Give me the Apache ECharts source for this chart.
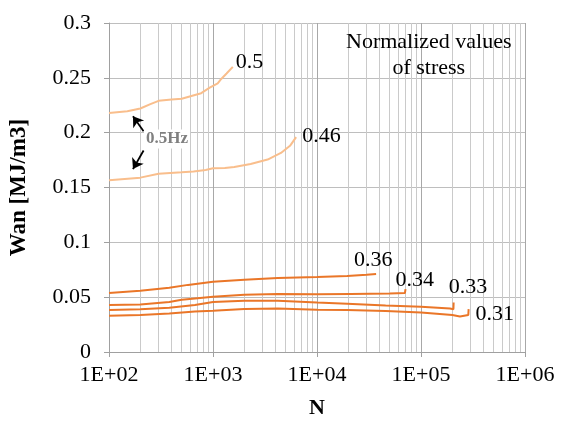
<!DOCTYPE html>
<html>
<head>
<meta charset="utf-8">
<script src="https://cdn.jsdelivr.net/npm/echarts@6/dist/echarts.min.js"></script>
<style>html,body{margin:0;padding:0;background:#fff}#c{width:566px;height:424px}</style>
</head>
<body>
<div id="c"></div>
<script>
// ---- data ----
const seriesNames = ['0.5', '0.46', '0.36', '0.34', '0.33', '0.31'];
const s05N  = [100, 150, 200, 250, 300, 400, 500, 620, 770, 930, 1110, 1200, 1350, 1550];
const s05W  = [0.218, 0.2195, 0.222, 0.226, 0.2290, 0.2302, 0.231, 0.2335, 0.236, 0.241, 0.245, 0.249, 0.254, 0.260];
const s046N = [100, 200, 300, 500, 650, 850, 1000, 1300, 1600, 2300, 3350, 4500, 5500, 6300];
const s046W = [0.1567, 0.159, 0.1625, 0.1638, 0.1645, 0.166, 0.1675, 0.1678, 0.1687, 0.1715, 0.1755, 0.1815, 0.188, 0.196];
const s036N = [100, 200, 380, 575, 1000, 2000, 4200, 10000, 19500, 30000, 37000];
const s036W = [0.0537, 0.0558, 0.0585, 0.0612, 0.064, 0.0658, 0.0674, 0.0683, 0.0694, 0.0705, 0.0712];
const s034N = [100, 200, 380, 500, 670, 1000, 2000, 4200, 10000, 21000, 50000, 70000, 71000];
const s034W = [0.0428, 0.0433, 0.0455, 0.0476, 0.0488, 0.0503, 0.0521, 0.0528, 0.0527, 0.053, 0.0533, 0.0537, 0.0573];
const s033N = [100, 200, 380, 670, 1000, 2000, 4200, 10000, 19500, 45700, 100000, 190000, 205000, 206000];
const s033W = [0.0382, 0.039, 0.0403, 0.0428, 0.0455, 0.0467, 0.0468, 0.0451, 0.044, 0.0424, 0.0412, 0.0397, 0.039, 0.0451];
const s031N = [100, 200, 380, 670, 1000, 2000, 4200, 10000, 19500, 45700, 100000, 200000, 237000, 285000, 287000];
const s031W = [0.033, 0.0337, 0.0351, 0.037, 0.0376, 0.0391, 0.0397, 0.0385, 0.0382, 0.0373, 0.036, 0.0337, 0.0324, 0.0337, 0.0391];
const xTickLabels = ['1E+02', '1E+03', '1E+04', '1E+05', '1E+06'];
const yTicks = [0, 0.05, 0.1, 0.15, 0.2, 0.25, 0.3];
// annotation arrows (N, Wan)
const arrow1 = [[215, 0.2012], [170, 0.2150]];
const arrow2 = [[215, 0.1838], [170, 0.1668]];

const allN = [s05N, s046N, s036N, s034N, s033N, s031N];
const allW = [s05W, s046W, s036W, s034W, s033W, s031W];
const light = '#F9BE8C', dark = '#EA7628';
const colors = [light, light, dark, dark, dark, dark];
const labelOffsets = [[-5, -5], [-2, -1], [-30, -14], [-18, -9], [-13, -15], [-1, 5]];
const serif = '"Liberation Serif", "Times New Roman", serif';

const series = seriesNames.map((name, i) => ({
  name: name,
  type: 'line',
  data: allN[i].map((n, j) => [n, allW[i][j]]),
  showSymbol: false,
  symbol: 'none',
  lineStyle: { color: colors[i], width: 2 },
  itemStyle: { color: colors[i] },
  silent: true,
  z: 3,
  endLabel: {
    show: true,
    formatter: name,
    color: '#000',
    fontFamily: serif,
    fontSize: 22,
    offset: labelOffsets[i]
  }
}));

series.push({
  type: 'line',
  data: [],
  silent: true,
  markLine: {
    silent: true,
    symbol: ['none', 'arrow'],
    symbolSize: 10,
    label: { show: false },
    lineStyle: { color: '#000', width: 1.8, type: 'solid' },
    data: [
      [{ coord: arrow1[0] }, { coord: arrow1[1] }],
      [{ coord: arrow2[0] }, { coord: arrow2[1] }]
    ]
  }
});

const chart = echarts.init(document.getElementById('c'), null, { renderer: 'canvas' });
chart.setOption({
  animation: false,
  backgroundColor: '#fff',
  grid: { left: 107, right: 41, top: 23, bottom: 72, containLabel: false },
  xAxis: {
    type: 'log',
    logBase: 10,
    min: 100,
    max: 1000000,
    name: 'N',
    nameLocation: 'middle',
    nameGap: 45,
    nameTextStyle: { fontFamily: serif, fontWeight: 'bold', fontSize: 22, color: '#000' },
    axisLine: { show: true, lineStyle: { color: '#A0A0A0', width: 1 } },
    axisTick: { show: true, length: 5, lineStyle: { color: '#A0A0A0' } },
    axisLabel: {
      fontFamily: serif, fontSize: 22, color: '#000', margin: 12,
      formatter: v => xTickLabels[Math.round(Math.log10(v)) - 2]
    },
    splitLine: { show: true, lineStyle: { color: '#A8A8A8', width: 1 } },
    minorTick: { show: false, splitNumber: 9 },
    minorSplitLine: { show: true, lineStyle: { color: '#CACACA', width: 1 } }
  },
  yAxis: {
    type: 'value',
    min: 0,
    max: 0.3,
    interval: 0.05,
    name: 'Wan [MJ/m3]',
    nameLocation: 'middle',
    nameGap: 78,
    nameTextStyle: { fontFamily: serif, fontWeight: 'bold', fontSize: 23, color: '#000' },
    axisLine: { show: true, lineStyle: { color: '#A0A0A0', width: 1 } },
    axisTick: { show: true, length: 5, lineStyle: { color: '#A0A0A0' } },
    axisLabel: {
      fontFamily: serif, fontSize: 22, color: '#000', margin: 18,
      formatter: v => String(yTicks[Math.round(v / 0.05)])
    },
    splitLine: { show: true, lineStyle: { color: '#BEBEBE', width: 1 } }
  },
  graphic: [
    {
      type: 'text',
      left: 346, top: 29,
      z: 10,
      style: {
        text: 'Normalized values\nof stress',
        font: '22px ' + serif,
        fill: '#000',
        textAlign: 'center',
        lineHeight: 26,
        width: 164
      }
    },
    {
      type: 'text',
      x: 167, y: 139,
      z: 10,
      style: {
        text: '0.5Hz',
        font: 'bold 17px ' + serif,
        fill: '#808080',
        textAlign: 'center',
        textVerticalAlign: 'middle',
        backgroundColor: '#fff',
        padding: [1, 2]
      }
    }
  ],
  series: series
});
</script>
</body>
</html>
